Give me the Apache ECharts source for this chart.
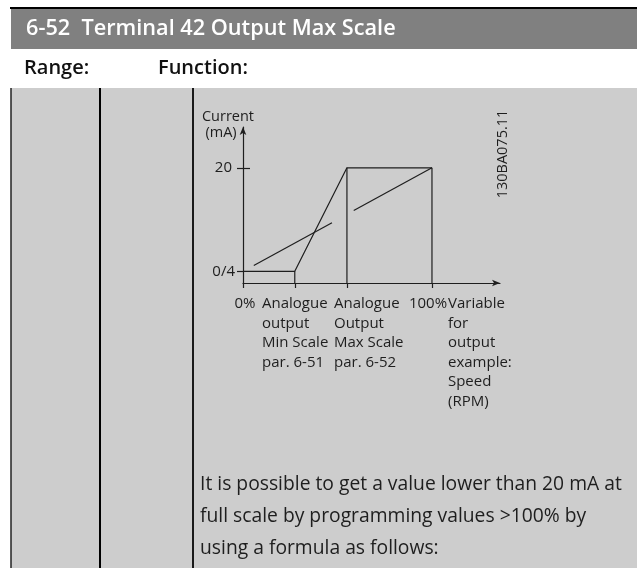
<!DOCTYPE html>
<html><head><meta charset="utf-8">
<script src="https://cdn.jsdelivr.net/npm/echarts@6/dist/echarts.min.js"></script>
<style>html,body{margin:0;padding:0;background:#fff}#c{width:637px;height:568px}</style>
</head><body><div id="c"></div>
<script>
// ---- data ----
const xTickValues = [0, 27.4, 55, 100];
const yTickValues = [4, 20];
const yTickLabels = ['0/4', '20'];
const outputCurve = [[0, 4], [27.4, 4], [55, 20], [100, 20]];
const minScaleDrop = [[27.4, 4], [27.4, 2.2]];
const maxScaleDrop = [[55, 20], [55, 2.2]];
const fullScaleDrop = [[100, 20], [100, 2.2]];
const lowerSlope = [[5.7, 4.9], [47.1, 11.5]];
const upperSlope = [[58.6, 13.4], [100, 20]];
const xLabelTexts = ['0%', 'Analogue\noutput\nMin Scale\npar. 6-51', 'Analogue\nOutput\nMax Scale\npar. 6-52', '100%', 'Variable\nfor\noutput\nexample:\nSpeed\n(RPM)'];
const yNameLines = ['Current', '(mA)'];
const drawingId = '130BA075.11';
const titleText = '6-52  Terminal 42 Output Max Scale';
const colHeaders = ['Range:', 'Function:'];
const paragraphLines = ['It is possible to get a value lower than 20 mA at', 'full scale by programming values >100% by', 'using a formula as follows:'];

// ---- chart ----
const INK = '#1e1e1e';
const FONT = '"Open Sans", sans-serif';
const chart = echarts.init(document.getElementById('c'), null, {renderer: 'canvas'});
const lineSeries = (data) => ({
  type: 'line', data, showSymbol: false, symbol: 'none', silent: true, z: 5,
  lineStyle: {color: INK, width: 1.2}, animation: false
});
chart.setOption({
  animation: false,
  backgroundColor: '#ffffff',
  grid: {left: 243, right: 137, top: 127, bottom: 285, containLabel: false},
  xAxis: {
    type: 'value', min: 0, max: 136,
    axisLine: {show: true, symbol: ['none', 'arrow'], symbolSize: [5, 8], lineStyle: {color: INK, width: 1.2}},
    axisTick: {show: true, customValues: xTickValues, length: 5, lineStyle: {color: INK, width: 1.2}},
    axisLabel: {show: false}, splitLine: {show: false}
  },
  yAxis: [{
    type: 'value', min: 2.2, max: 26.3, position: 'left',
    axisLine: {show: true, onZero: false, symbol: ['none', 'arrow'], symbolSize: [5, 8], lineStyle: {color: INK, width: 1.2}},
    axisTick: {show: true, customValues: yTickValues, length: 6, lineStyle: {color: INK, width: 1.2}},
    axisLabel: {
      show: true, customValues: yTickValues, margin: 8, color: INK, fontFamily: FONT, fontSize: 15,
      formatter: (v) => { const i = yTickValues.indexOf(v); return i === 1 ? '{p|' + yTickLabels[i] + '}' : yTickLabels[i]; },
      rich: {p: {padding: [0, 3, 0, 0], fontFamily: FONT, fontSize: 15, color: INK}}
    },
    splitLine: {show: false}
  }, {
    type: 'value', min: 2.2, max: 26.3, position: 'left', offset: 0,
    axisLine: {show: false},
    axisTick: {show: true, inside: true, customValues: [yTickValues[1]], length: 7, lineStyle: {color: INK, width: 1.2}},
    axisLabel: {show: false}, splitLine: {show: false}
  }],
  series: [outputCurve, minScaleDrop, maxScaleDrop, fullScaleDrop, lowerSlope, upperSlope].map(lineSeries)
});

const px = (x, y) => chart.convertToPixel({gridIndex: 0}, [x, y]);
const x0 = px(0, 4)[0], x100 = px(100, 4)[0];
const axisY = px(0, 2.2)[1];
const topY = px(0, 26.3)[1];
const lh = 19.5;
const lblTop = axisY + 11;
const txt = (text, x, y, opts) => Object.assign({
  type: 'text', z: 50, style: Object.assign({text, x: 0, y: 0, fill: INK, font: '15px ' + FONT, lineHeight: lh, verticalAlign: 'top', align: 'left'}, opts.style || {}),
  x, y
}, opts.el || {});

const elements = [
  // table background
  {type: 'rect', z: -10, shape: {x: 11, y: 88, width: 626, height: 480}, style: {fill: '#cdcdcd'}},
  {type: 'rect', z: -10, shape: {x: 11, y: 9, width: 626, height: 40}, style: {fill: '#808080'}},
  {type: 'line', z: 60, shape: {x1: 10, y1: 8, x2: 637, y2: 8}, style: {stroke: '#000', lineWidth: 2}},
  {type: 'line', z: 60, shape: {x1: 11, y1: 88, x2: 11, y2: 568}, style: {stroke: '#222', lineWidth: 1.5}},
  {type: 'line', z: 60, shape: {x1: 100, y1: 88, x2: 100, y2: 568}, style: {stroke: '#000', lineWidth: 2}},
  {type: 'line', z: 60, shape: {x1: 193, y1: 88, x2: 193, y2: 568}, style: {stroke: '#1a1a1a', lineWidth: 2}},
  txt(titleText, 26, 29, {style: {fill: '#fff', font: '600 21.7px ' + FONT, verticalAlign: 'middle', lineHeight: 24}}),
  txt(colHeaders[0], 24, 68, {style: {fill: '#111', font: '600 20px ' + FONT, verticalAlign: 'middle', lineHeight: 24}}),
  txt(colHeaders[1], 158, 68, {style: {fill: '#111', font: '600 20px ' + FONT, verticalAlign: 'middle', lineHeight: 24}}),
  // chart annotations
  txt(yNameLines[0], x0 - 15, topY - 10, {style: {align: 'center', verticalAlign: 'middle', font: '14.5px ' + FONT}}),
  txt(yNameLines[1], x0 - 22, topY + 6, {style: {align: 'center', verticalAlign: 'middle', font: '14.5px ' + FONT}}),
  txt(xLabelTexts[0], x0 + 2, lblTop, {style: {align: 'center'}}),
  txt(xLabelTexts[1], x0 + 19, lblTop, {}),
  txt(xLabelTexts[2], x0 + 91, lblTop, {}),
  txt(xLabelTexts[3], x100 - 4, lblTop, {style: {align: 'center'}}),
  txt(xLabelTexts[4], x100 + 16, lblTop, {}),
  txt(drawingId, x100 + 71, topY + 27, {style: {align: 'center', verticalAlign: 'middle', font: '14.5px ' + FONT}, el: {rotation: Math.PI / 2}}),
  // paragraph
  txt(paragraphLines.join('\n'), 200, 469, {style: {font: '19.3px ' + FONT, lineHeight: 32}})
];
chart.setOption({graphic: {elements}});
</script></body></html>
